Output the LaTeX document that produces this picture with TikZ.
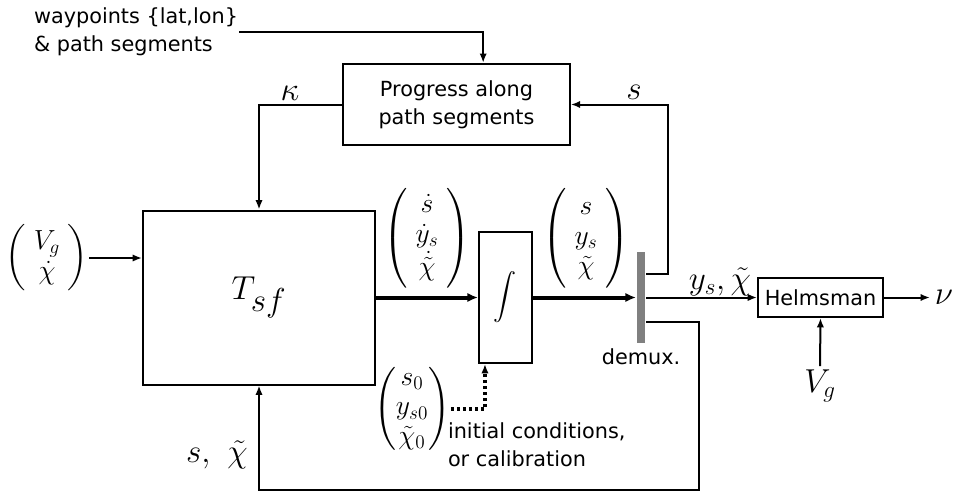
\documentclass[tikz,border=0pt]{standalone}
\usepackage{amsmath}
\usepackage{fontspec}
\setmainfont{DejaVu Sans}
\usetikzlibrary{arrows.meta}

\newcommand{\sigvec}[1]{\left(\;\begin{matrix}#1\end{matrix}\;\right)}

\begin{document}
\begin{tikzpicture}[x=0.75pt,y=-0.75pt,line width=1.5pt,
  box/.style={draw, line width=1.5pt, inner sep=0pt, align=center},
  txt/.style={font=\fontsize{15.6}{21}\selectfont, inner sep=0pt},
  sig/.style={font=\fontsize{21}{22.5}\selectfont, inner sep=0pt},
  lbl/.style={font=\fontsize{27}{29}\selectfont, inner sep=0pt},
  arr/.style={-{Latex[length=7pt,width=5.5pt]}},
  bus/.style={line width=3pt, -{Latex[length=8pt,width=7pt]}}]
\useasboundingbox (0,0) rectangle (962,493);

% blocks
\node[box, txt, minimum width=170pt, minimum height=61pt] (prog) at (456.5,104.5) {Progress along\\path segments};
\node[box, minimum width=174pt, minimum height=130.5pt, font=\fontsize{34}{40}\selectfont] (tsf) at (259,297.5) {$T_{sf}$};
\node[box, minimum width=39.75pt, minimum height=98.25pt, font=\fontsize{16}{18}\selectfont] (int) at (505.5,297.5) {$\displaystyle\int$};
\node[fill=gray, minimum width=6pt, minimum height=68pt, inner sep=0pt] (demux) at (641,297.5) {};
\node[box, txt, minimum width=93.75pt, minimum height=29.25pt] (helm) at (820.5,297.5) {Helmsman};

% texts and signals
\node[txt, align=left, anchor=west] (wp) at (33,32) {waypoints \{lat,lon\}\\\& path segments};
\node[sig] (vin) at (47,258) {$\sigvec{V_g\\ \dot{\chi}}$};
\node[sig] (vdot) at (427,238) {$\sigvec{\dot s\\ \dot y_s\\ \dot{\tilde\chi}}$};
\node[sig] (vst) at (586,238) {$\sigvec{s\\ y_s\\ \tilde\chi}$};
\node[sig, font=\fontsize{20}{22}\selectfont] (vinit) at (412,409) {$\begin{pmatrix}s_0\\ y_{s0}\\ \tilde\chi_0\end{pmatrix}$};
\node[txt, align=left, anchor=west] (ic) at (447,445) {initial conditions,\\or calibration};
\node[txt] (dlbl) at (641,357) {demux.};
\node[lbl, font=\fontsize{31}{33}\selectfont] (kappa) at (290,93) {$\kappa$};
\node[lbl, font=\fontsize{31}{33}\selectfont] (slbl) at (634,92) {$s$};
\node[lbl] (ychi) at (720,282) {$y_s,\tilde{\chi}$};
\node[lbl] (sfb) at (217,455) {$s,\ \tilde{\chi}$};
\node[lbl, inner sep=3pt] (nu) at (944,297.5) {$\nu$};
\node[lbl, anchor=north, inner sep=2pt] (vg) at (820,366) {$V_g$};

\coordinate (up) at (668,0);
\coordinate (low) at (699,490);

% connectors
\draw[arr] (wp.east) -| ([xshift=20pt]prog.north);
\draw[arr] (prog.west) -| (tsf.north);
\draw[arr] (vin.east) -- (vin.east -| tsf.west);
\draw[bus] (tsf.east) -- (int.west);
\draw[bus] (int.east) -- (demux.west);
\draw[arr] ([yshift=17.6pt]demux.east) -| (up |- prog.east) -- (prog.east);
\draw[arr] (demux.east) -- (helm.west);
\draw[arr] ([yshift=-18.4pt]demux.east) -| (low) -| (tsf.south);
\draw[arr] (helm.east) -- (nu.west);
\draw[arr] (vg.north) -- (helm.south);
\draw[line width=2.5pt, dotted, arr] (vinit.east) -| ([xshift=-15.4pt]int.south);
\end{tikzpicture}
\end{document}
